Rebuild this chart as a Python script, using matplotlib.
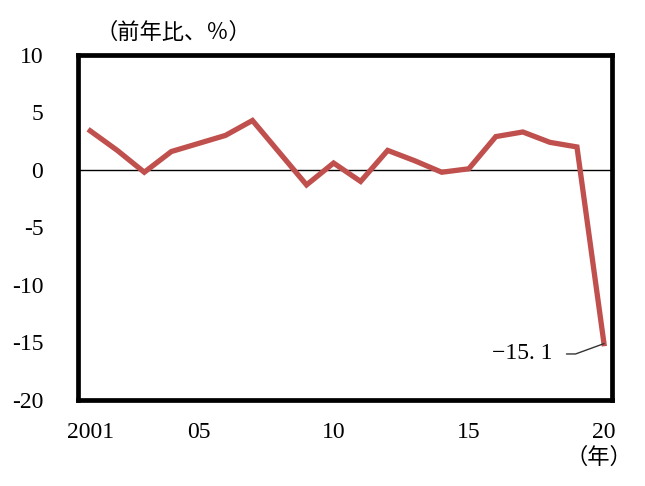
import matplotlib
matplotlib.use("Agg")
import matplotlib.pyplot as plt

plt.rcParams["font.family"] = ["Liberation Serif", "Noto Sans CJK JP", "DejaVu Sans"]
plt.rcParams["font.size"] = 17

years = list(range(2001, 2021))
values = [3.4, 1.7, -0.2, 1.6, 2.3, 3.0, 4.3, 1.5, -1.3, 0.6,
          -1.0, 1.7, 0.8, -0.2, 0.1, 2.9, 3.3, 2.4, 2.0, -15.1]
xtick_pos = [2001, 2005, 2010, 2015, 2020]
xtick_labels = ["2001", "05", "10", "15", "20"]
yticks = [10, 5, 0, -5, -10, -15, -20]
ytick_labels = ["10", "5", "0", "-5", "-10", "-15", "-20"]

fig = plt.figure(figsize=(6.45, 4.86), dpi=100)
ax = fig.add_axes([0.121, 0.177, 0.828, 0.710])

ax.axhline(0, color="black", lw=1.0, zorder=1)
ax.plot(years, values, color="#C0504D", lw=3.8, zorder=3, solid_joinstyle="miter")

ax.set_xlim(2000.55, 2020.3)
ax.set_ylim(-20, 10)
ax.set_xticks(xtick_pos)
ax.set_xticklabels(xtick_labels)
ax.set_yticks(yticks)
ax.set_yticklabels(ytick_labels)
ax.tick_params(length=0, labelsize=17)
ax.tick_params(axis="x", pad=16)
ax.tick_params(axis="y", pad=25)
for s in ax.spines.values():
    s.set_linewidth(3.4)

# label for the last point
ax.annotate("\u221215. 1", xy=(years[-1], values[-1]), xytext=(2018.1, -16.0),
            ha="right", va="center", fontsize=17,
            arrowprops=dict(arrowstyle="-", color="#333333", lw=1.0,
                            shrinkA=8, shrinkB=0,
                            connectionstyle="angle,angleA=0,angleB=20,rad=0"))

fig.text(0.148, 0.932, "（前年比、％）", fontsize=16, ha="left", va="center")
fig.text(0.928, 0.058, "（年）", fontsize=16, ha="center", va="center")

fig.savefig("out.png", dpi=100)
